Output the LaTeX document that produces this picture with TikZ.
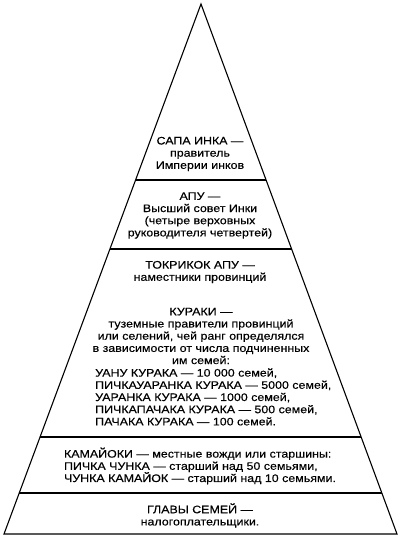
\documentclass[tikz,border=0pt]{standalone}
\usepackage{fontspec}
\setmainfont[FakeStretch=1.14, FakeBold=0.3]{Liberation Sans}
\usepackage{tikz}
\usetikzlibrary{calc}
\tikzstyle{level}     = [text centered,
                         align=center,
                         inner sep=0pt,
                         font=\fontsize{10.9}{12.2}\selectfont]
\tikzstyle{levelList} = [align=left,
                         inner sep=0pt,
                         font=\fontsize{10.9}{12.2}\selectfont]
\tikzstyle{edge}      = [line width=1.1pt, line join=miter]
\tikzstyle{divider}   = [line width=1.1pt]

\begin{document}
\begin{tikzpicture}[x=1pt, y=1pt]
\useasboundingbox (0,0) rectangle (400,542);

\coordinate (apex)  at (201,538);
\coordinate (baseL) at (4,8);
\coordinate (baseR) at (397,8);

\draw [edge] (apex) -- (baseL) -- (baseR) -- cycle;

% lines between the levels
\foreach \name/\t in {sapa/0.668, apu/0.5377, kuraki/0.183, kamayoki/0.0774} {
    \coordinate (\name L) at ($(baseL)!\t!(apex)$);
    \coordinate (\name R) at ($(baseR)!\t!(apex)$);
    \draw [divider] (\name L) -- (\name R);
}

\node [level] (SapaInka) at ([shift={(-1,-150)}] apex) {
    САПА ИНКА —\\ правитель\\ Империи инков
    };
\node [level] (Apu)      at ([shift={(-1,-211.5)}] apex) {
    АПУ —\\ Высший совет Инки\\ (четыре верховных\\ руководителя четвертей)
    };
\node [level] (Tokrikok) at ([shift={(-1,-268)}] apex) {
    ТОКРИКОК АПУ —\\ наместники провинций
    };
\node [level] (Kuraki)   at ([shift={(0,-332)}] apex) {
    КУРАКИ —\\ туземные правители провинций\\ или селений, чей ранг определялся\\
    в зависимости от числа подчиненных\\ им семей:
    };
\node [levelList, anchor=west] (KurakaList) at ([shift={(-106,-393)}] apex) {
    УАНУ КУРАКА — 10 000 семей,\\
    ПИЧКАУАРАНКА КУРАКА — 5000 семей,\\
    УАРАНКА КУРАКА — 1000 семей,\\
    ПИЧКАПАЧАКА КУРАКА — 500 семей,\\
    ПАЧАКА КУРАКА — 100 семей.
    };
\node [levelList] (Kamayoki) at ([shift={(-1,-462)}] apex) {
    КАМАЙОКИ — местные вожди или старшины:\\
    ПИЧКА ЧУНКА — старший над 50 семьями,\\
    ЧУНКА КАМАЙОК — старший над 10 семьями.
    };
\node [level] (GlavySemey) at ([shift={(-1,-511.5)}] apex) {
    ГЛАВЫ СЕМЕЙ —\\ налогоплательщики.
    };

\end{tikzpicture}
\end{document}
